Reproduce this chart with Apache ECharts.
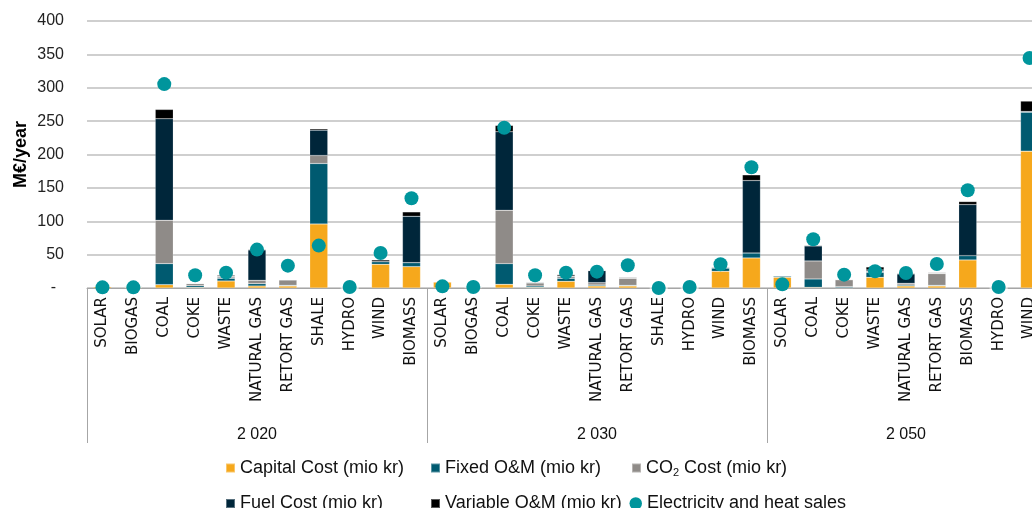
<!DOCTYPE html>
<html>
<head>
<meta charset="utf-8">
<script src="https://cdn.jsdelivr.net/npm/echarts@6/dist/echarts.min.js"></script>
<style>
html,body{margin:0;padding:0;background:#fff;overflow:hidden;width:1032px;height:508px;}
#chart{width:1060px;height:508px;}
</style>
</head>
<body>
<div id="chart"></div>
<script>
// ---- Data ----
const groups = ['2 020', '2 030', '2 050'];
const cats2020 = ['SOLAR','BIOGAS','COAL','COKE','WASTE','NATURAL GAS','RETORT GAS','SHALE','HYDRO','WIND','BIOMASS'];
const cats2030 = ['SOLAR','BIOGAS','COAL','COKE','WASTE','NATURAL GAS','RETORT GAS','SHALE','HYDRO','WIND','BIOMASS'];
const cats2050 = ['SOLAR','COAL','COKE','WASTE','NATURAL GAS','RETORT GAS','BIOMASS','HYDRO','WIND'];

const capital2020 = [2, 1, 5, 1, 10.5, 3, 3, 96, 0, 35.5, 32];
const capital2030 = [9, 0.5, 5.5, 1, 10, 3, 3, 0, 0, 25, 45];
const capital2050 = [16, 1, 0.5, 16, 3, 3, 42, 0, 205];

const fixed2020 = [0.5, 0.5, 31.5, 2.5, 4, 3.5, 1, 90.5, 0, 4, 6];
const fixed2030 = [0.5, 0.5, 31, 2, 4.5, 1.5, 1, 0, 0, 5, 7.5];
const fixed2050 = [2, 12.5, 1.5, 7.5, 1.5, 1, 6.5, 0, 58.5];

const co2_2020 = [0, 1, 65, 3, 2, 5, 8, 12, 0, 0, 0];
const co2_2030 = [0, 1, 80, 4.5, 2.5, 3.5, 10.5, 0, 0, 0, 0];
const co2_2050 = [0, 27, 10.5, 1.5, 2.5, 17.5, 0, 0, 0];

const fuel2020 = [0, 0.5, 152, 0.5, 1, 45.5, 0.5, 38, 0, 0, 69.5];
const fuel2030 = [0, 0.3, 117.5, 1, 1, 18, 0.5, 0, 0, 0, 108.5];
const fuel2050 = [0, 22.5, 0, 2, 14, 0.5, 76.5, 0, 1];

const variable2020 = [0, 0, 14, 0.5, 1.5, 1, 0.5, 2, 0, 2.5, 6.5];
const variable2030 = [0, 0, 9.5, 0.3, 2, 0.5, 1, 0, 0, 1, 8.5];
const variable2050 = [0, 1, 0, 4.5, 1, 1, 4.5, 0, 15.5];

const sales2020 = [1, 1, 305.5, 19, 23, 57.5, 33.5, 63.5, 1.5, 52.5, 134.5];
const sales2030 = [2.5, 1.5, 240, 19, 23, 24.5, 34, 0, 1.5, 35.5, 181];
const sales2050 = [5.5, 73, 20, 25, 22.5, 36, 146.5, 1.5, 344.5];

const yTicks = [0, 50, 100, 150, 200, 250, 300, 350, 400];

// ---- Build ----
const categories = [...cats2020, ...cats2030, ...cats2050];
const groupSizes = [cats2020.length, cats2030.length, cats2050.length];
const boundaries = [0];
groupSizes.forEach(s => boundaries.push(boundaries[boundaries.length - 1] + s));
const groupCenters = groupSizes.map((s, i) => boundaries[i] + s / 2);
const N = categories.length;

const names = {
  cap: 'Capital Cost (mio kr)',
  fix: 'Fixed O&M (mio kr)',
  co2: 'CO2 Cost (mio kr)',
  fuel: 'Fuel Cost (mio kr)',
  vari: 'Variable O&M (mio kr)',
  sales: 'Electricity and heat sales'
};
const colors = {
  cap: '#F6A81C', fix: '#005A70', co2: '#8F8B88', fuel: '#00263A', vari: '#000000', sales: '#00959C'
};

function barSeries(key, data) {
  return {
    name: names[key], type: 'bar', stack: 'cost', xAxisIndex: 0, yAxisIndex: 0,
    data: data, barWidth: 18,
    itemStyle: { color: colors[key], borderColor: 'rgba(255,255,255,0.35)', borderWidth: 0.5 },
    emphasis: { disabled: true }
  };
}

const labelFont = 'Liberation Sans';
const legendText = {
  fontFamily: labelFont, fontSize: 18, color: '#111', lineHeight: 20,
  rich: { sub: { fontSize: 11, verticalAlign: 'bottom', padding: [9, 0, 0, 0], fontFamily: labelFont, color: '#111' } }
};
function mkLegend(left, top, name, icon, size) {
  return {
    orient: 'horizontal', left: left, top: top, padding: 0, height: 40, width: 400,
    itemWidth: size, itemHeight: size,
    data: [{ name: name, icon: icon }], textStyle: legendText, selectedMode: false,
    formatter: n => n === names.co2 ? 'CO{sub|2} Cost (mio kr)' : n
  };
}

const chart = echarts.init(document.getElementById('chart'), null, { renderer: 'canvas' });
chart.setOption({
  animation: false,
  backgroundColor: '#fff',
  grid: { left: 87, right: 15, top: 21, bottom: 220, containLabel: false },
  legend: [
    mkLegend(225, 458, names.cap, 'rect', 9),
    mkLegend(430, 458, names.fix, 'rect', 9),
    mkLegend(631, 458, names.co2, 'rect', 9),
    mkLegend(225, 493.5, names.fuel, 'rect', 9),
    mkLegend(430, 493.5, names.vari, 'rect', 9),
    mkLegend(629.5, 493.5, names.sales, 'circle', 12.5)
  ],
  xAxis: [
    {
      type: 'category', data: categories, position: 'bottom',
      axisLine: { show: true, lineStyle: { color: '#A6A6A6', width: 1 } },
      axisTick: { show: false },
      axisLabel: { rotate: 90, interval: 0, margin: 9, fontFamily: 'DejaVu Sans', fontSize: 15, color: '#111' }
    },
    {
      type: 'value', min: 0, max: N, position: 'bottom',
      axisLine: { show: false },
      splitLine: { show: false },
      axisTick: { show: true, length: 155, inside: false, customValues: boundaries, lineStyle: { color: '#A6A6A6', width: 1 } },
      axisLabel: {
        margin: 139, customValues: groupCenters, fontFamily: labelFont, fontSize: 16, color: '#111',
        formatter: v => { const i = groupCenters.indexOf(v); return i >= 0 ? groups[i] : ''; }
      }
    }
  ],
  yAxis: {
    type: 'value', min: 0, max: 400, interval: 50,
    name: 'M€/year', nameLocation: 'middle', nameGap: 57, nameRotate: 90, nameMoveOverlap: false,
    nameTextStyle: { fontFamily: labelFont, fontSize: 18, fontWeight: 'bold', color: '#000' },
    axisLine: { show: false }, axisTick: { show: false },
    axisLabel: {
      margin: 23, fontFamily: labelFont, fontSize: 16, color: '#222',
      customValues: yTicks,
      formatter: v => v === 0 ? '{d|-}' : String(v),
      rich: { d: { fontFamily: labelFont, fontSize: 16, color: '#222', padding: [0, 8, 0, 0] } }
    },
    splitLine: { show: true, lineStyle: { color: '#BFBFBF', width: 1.5 } }
  },
  series: [
    barSeries('cap', [...capital2020, ...capital2030, ...capital2050]),
    barSeries('fix', [...fixed2020, ...fixed2030, ...fixed2050]),
    barSeries('co2', [...co2_2020, ...co2_2030, ...co2_2050]),
    barSeries('fuel', [...fuel2020, ...fuel2030, ...fuel2050]),
    barSeries('vari', [...variable2020, ...variable2030, ...variable2050]),
    {
      name: names.sales, type: 'scatter', xAxisIndex: 0, yAxisIndex: 0,
      data: [...sales2020, ...sales2030, ...sales2050],
      symbol: 'circle', symbolSize: 14, z: 5,
      itemStyle: { color: colors.sales, opacity: 1 },
      emphasis: { disabled: true }
    }
  ]
});
</script>
</body>
</html>
